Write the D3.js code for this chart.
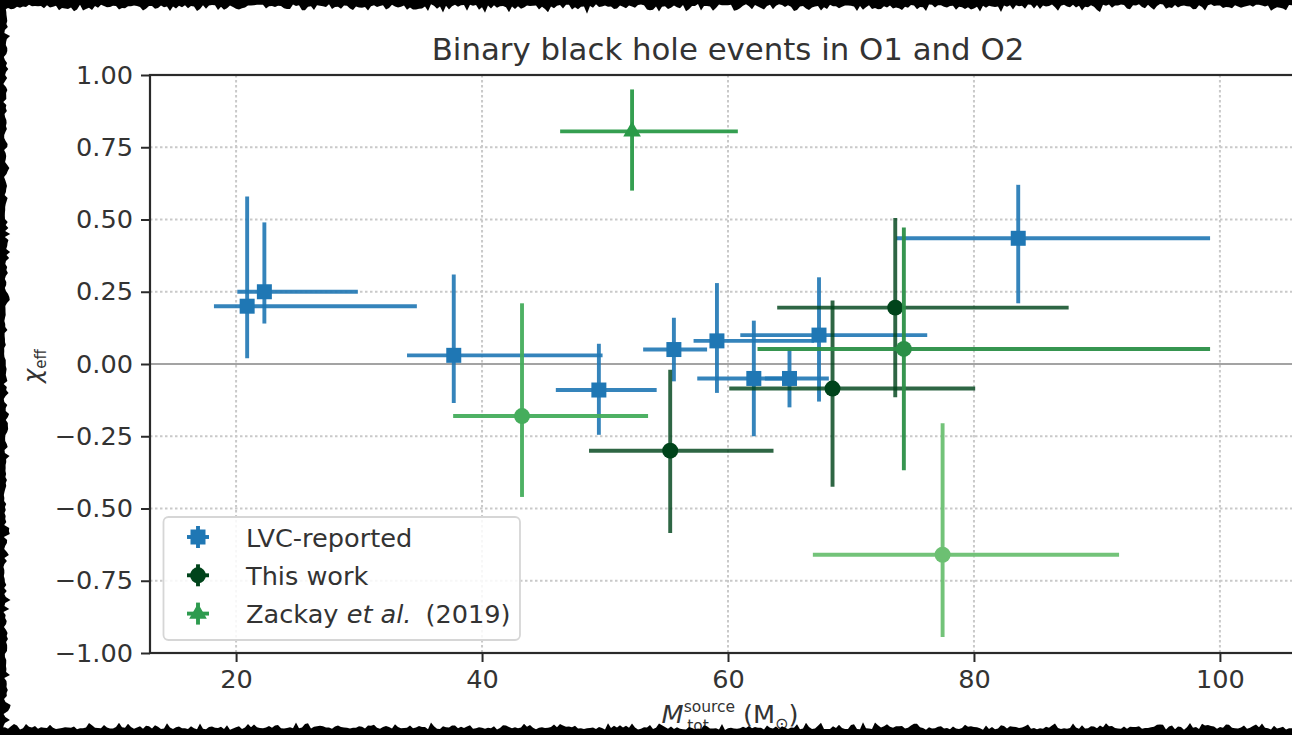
<!DOCTYPE html>
<html>
<head>
<meta charset="utf-8">
<script src="https://cdn.jsdelivr.net/npm/d3@7/dist/d3.min.js"></script>
<style>
  html, body { margin: 0; padding: 0; background: #fff; }
  svg { display: block; font-family: "DejaVu Sans", sans-serif; }
</style>
</head>
<body>
<svg id="chart" width="1292" height="735"></svg>
<script>
// ---- data: total source mass (M_sun) and effective spin, with asymmetric errors ----
const lvcMass      = [20.9, 22.3, 37.7, 49.5, 55.6, 59.1, 62.1, 65.0, 67.4, 83.6];
const lvcMassMinus = [2.7, 2.2, 3.8, 3.5, 2.5, 1.9, 4.6, 2.0, 6.4, 9.9];
const lvcMassPlus  = [13.8, 7.6, 12.1, 4.7, 2.7, 7.9, 3.4, 3.2, 8.8, 15.6];
const lvcChi       = [0.20, 0.25, 0.03, -0.09, 0.05, 0.08, -0.05, -0.05, 0.10, 0.435];
const lvcChiMinus  = [0.18, 0.11, 0.165, 0.155, 0.11, 0.18, 0.20, 0.10, 0.23, 0.225];
const lvcChiPlus   = [0.38, 0.24, 0.28, 0.16, 0.11, 0.20, 0.20, 0.10, 0.20, 0.185];

const newMass      = [55.3, 68.5, 73.6];
const newMassMinus = [6.6, 8.4, 9.6];
const newMassPlus  = [8.4, 11.6, 14.1];
const newChi       = [-0.30, -0.085, 0.195];
const newChiMinus  = [0.285, 0.34, 0.31];
const newChiPlus   = [0.28, 0.305, 0.31];

const zackayMass      = [52.2, 43.25, 74.3, 77.45];
const zackayMassMinus = [5.85, 5.6, 11.9, 10.55];
const zackayMassPlus  = [8.6, 10.25, 24.9, 14.35];
const zackayChi       = [0.805, -0.18, 0.052, -0.66];
const zackayChiMinus  = [0.205, 0.28, 0.42, 0.285];
const zackayChiPlus   = [0.145, 0.39, 0.42, 0.455];
const zackayShape     = ["triangle", "circle", "circle", "circle"];
const zackayColor     = ["#2a9a48", "#45ad5c", "#2b8f47", "#6cc072"];

const xTicks = [20, 40, 60, 80, 100];
const yTicks = [-1.0, -0.75, -0.5, -0.25, 0.0, 0.25, 0.5, 0.75, 1.0];
const legendLabels = ["LVC-reported", "This work", "Zackay et al. (2019)"];

const blue = "#1f77b4";
const darkGreen = "#00441b";

// ---- layout ----
const svg = d3.select("#chart");
const W = 1292, H = 735;
const plot = { left: 150, top: 75, right: 1306, bottom: 653 };

svg.append("rect").attr("width", W).attr("height", H).attr("fill", "#fff");

const x = d3.scaleLinear().domain([13.0, 107.0]).range([plot.left, plot.right]);
const y = d3.scaleLinear().domain([-1, 1]).range([plot.bottom, plot.top]);

// grid
const grid = svg.append("g").attr("stroke", "#c9c9c9").attr("stroke-width", 2)
  .attr("stroke-dasharray", "2.5,2.5");
grid.selectAll("line.gx").data(xTicks).join("line").attr("class", "gx")
  .attr("x1", d => x(d)).attr("x2", d => x(d)).attr("y1", plot.top).attr("y2", plot.bottom);
grid.selectAll("line.gy").data(yTicks).join("line").attr("class", "gy")
  .attr("x1", plot.left).attr("x2", plot.right).attr("y1", d => y(d)).attr("y2", d => y(d));

// zero line
svg.append("line").attr("x1", plot.left).attr("x2", plot.right)
  .attr("y1", y(0)).attr("y2", y(0)).attr("stroke", "#a3a3a3").attr("stroke-width", 2);

// ---- error bars with markers ----
const sym = {
  square: d3.symbol().type(d3.symbolSquare).size(225)(),
  circle: d3.symbol().type(d3.symbolCircle).size(200)(),
  triangle: d3.symbol().type(d3.symbolTriangle).size(135)()
};

function drawSeries(rows, lineOpacity) {
  const g = svg.append("g");
  rows.forEach(r => {
    g.append("line").attr("x1", x(r.m - r.mm)).attr("x2", x(r.m + r.mp))
      .attr("y1", y(r.c)).attr("y2", y(r.c))
      .attr("stroke", r.color).attr("stroke-width", 3.9).attr("stroke-opacity", lineOpacity);
    g.append("line").attr("x1", x(r.m)).attr("x2", x(r.m))
      .attr("y1", y(r.c - r.cm)).attr("y2", y(r.c + r.cp))
      .attr("stroke", r.color).attr("stroke-width", 3.9).attr("stroke-opacity", lineOpacity);
  });
  rows.forEach(r => {
    g.append("path").attr("d", sym[r.shape])
      .attr("transform", `translate(${x(r.m)},${y(r.c)})`)
      .attr("fill", r.color);
  });
}

drawSeries(lvcMass.map((m, i) => ({
  m, mm: lvcMassMinus[i], mp: lvcMassPlus[i],
  c: lvcChi[i], cm: lvcChiMinus[i], cp: lvcChiPlus[i],
  shape: "square", color: blue
})), 0.9);

drawSeries(newMass.map((m, i) => ({
  m, mm: newMassMinus[i], mp: newMassPlus[i],
  c: newChi[i], cm: newChiMinus[i], cp: newChiPlus[i],
  shape: "circle", color: darkGreen
})), 0.82);

drawSeries(zackayMass.map((m, i) => ({
  m, mm: zackayMassMinus[i], mp: zackayMassPlus[i],
  c: zackayChi[i], cm: zackayChiMinus[i], cp: zackayChiPlus[i],
  shape: zackayShape[i], color: zackayColor[i]
})), 0.95);

// ---- axes ----
const axisColor = "#2a2a2a";
const fmt = d3.format(".2f");

const yAxis = svg.append("g").attr("transform", `translate(${plot.left},0)`)
  .call(d3.axisLeft(y).tickValues(yTicks).tickFormat(fmt).tickSize(9).tickPadding(8));
const xAxis = svg.append("g").attr("transform", `translate(0,${plot.bottom})`)
  .call(d3.axisBottom(x).tickValues(xTicks).tickFormat(d3.format("d")).tickSize(9).tickPadding(8));

[yAxis, xAxis].forEach(a => {
  a.select(".domain").remove();
  a.selectAll(".tick line").attr("stroke", axisColor).attr("stroke-width", 2);
  a.selectAll(".tick text").attr("fill", "#333").style("font-size", "25.6px")
    .style("font-family", "DejaVu Sans");
});

// spines
const spines = svg.append("g").attr("stroke", axisColor).attr("stroke-width", 2.2).attr("fill", "none");
spines.append("rect").attr("x", plot.left).attr("y", plot.top)
  .attr("width", plot.right - plot.left).attr("height", plot.bottom - plot.top);

// ---- title and axis labels ----
svg.append("text").attr("x", (plot.left + plot.right) / 2).attr("y", 60)
  .attr("text-anchor", "middle").attr("fill", "#333").style("font-size", "30.8px")
  .text("Binary black hole events in O1 and O2");

const yl = svg.append("text").attr("transform", "translate(41,366) rotate(-90)")
  .attr("text-anchor", "middle").attr("fill", "#333").style("font-size", "24px");
yl.append("tspan").style("font-style", "italic").text("χ");
yl.append("tspan").attr("dy", 5).style("font-size", "15px").text("eff");

// x label: M with stacked super/subscript, then the solar-mass unit
const xl = svg.append("text").attr("x", 730).attr("y", 723)
  .attr("text-anchor", "middle").attr("fill", "#333").style("font-size", "25.6px");
xl.append("tspan").style("font-style", "italic").text("M");
xl.append("tspan").attr("dy", -11).style("font-size", "15.5px").text("source");
xl.append("tspan").attr("dx", -48).attr("dy", 19).style("font-size", "15.5px").text("tot");
xl.append("tspan").attr("dx", 26).attr("dy", -8).text(" (M");
xl.append("tspan").attr("dy", 6).style("font-size", "16px").text("⊙");
xl.append("tspan").attr("dy", -6).text(")");

// ---- legend ----
const lg = svg.append("g");
lg.append("rect").attr("x", 163.5).attr("y", 517).attr("width", 356.5).attr("height", 123)
  .attr("rx", 5).attr("fill", "#fff").attr("fill-opacity", 0.85)
  .attr("stroke", "#d6d6d6").attr("stroke-width", 1.8);

const legendItems = [
  { label: legendLabels[0], shape: "square", color: blue },
  { label: legendLabels[1], shape: "circle", color: darkGreen },
  { label: legendLabels[2], shape: "triangle", color: "#2e9b4f" }
];
legendItems.forEach((it, i) => {
  const cy = 537 + i * 38.3;
  const cx = 198;
  lg.append("line").attr("x1", cx - 11).attr("x2", cx + 11).attr("y1", cy).attr("y2", cy)
    .attr("stroke", it.color).attr("stroke-width", 3.9);
  lg.append("line").attr("x1", cx).attr("x2", cx).attr("y1", cy - 11).attr("y2", cy + 11)
    .attr("stroke", it.color).attr("stroke-width", 3.9);
  lg.append("path").attr("d", sym[it.shape]).attr("transform", `translate(${cx},${cy})`)
    .attr("fill", it.color);
  const t = lg.append("text").attr("x", 246).attr("y", cy + 9.5).attr("fill", "#333")
    .style("font-size", "25.6px");
  if (i === 2) {
    t.append("tspan").text("Zackay ");
    t.append("tspan").style("font-style", "italic").text("et al.");
    t.append("tspan").attr("dx", 14).text("(2019)");
  } else {
    t.text(it.label);
  }
});

// ---- ragged black frame along the top, left and bottom edges ----
function wobble(i, k) {
  const s = Math.sin(i * 12.9898 + k * 78.233) * 43758.5453;
  return s - Math.floor(s);
}
function edgePath(points) { return "M" + points.map(p => p.join(",")).join("L") + "Z"; }

const frame = svg.append("g").attr("fill", "#000");
const topEdge = [[0, 0], [W, 0]];
for (let px = W; px >= 0; px -= 3) topEdge.push([px, 4 + 8 * wobble(px, 1) * wobble(px + 1, 2) + 2 * wobble(px, 3)]);
frame.append("path").attr("d", edgePath(topEdge));

const leftEdge = [[0, 0]];
for (let py = 0; py <= H; py += 3) leftEdge.push([3 + 6 * wobble(py, 4) * wobble(py + 2, 5) + 3 * wobble(py, 6), py]);
leftEdge.push([0, H]);
frame.append("path").attr("d", edgePath(leftEdge));

const bottomEdge = [[0, H], [W, H]];
for (let px = W; px >= 0; px -= 3) bottomEdge.push([px, H - 5 - 7 * wobble(px, 7) * wobble(px + 1, 8) - 2 * wobble(px, 9)]);
frame.append("path").attr("d", edgePath(bottomEdge));
</script>
</body>
</html>
